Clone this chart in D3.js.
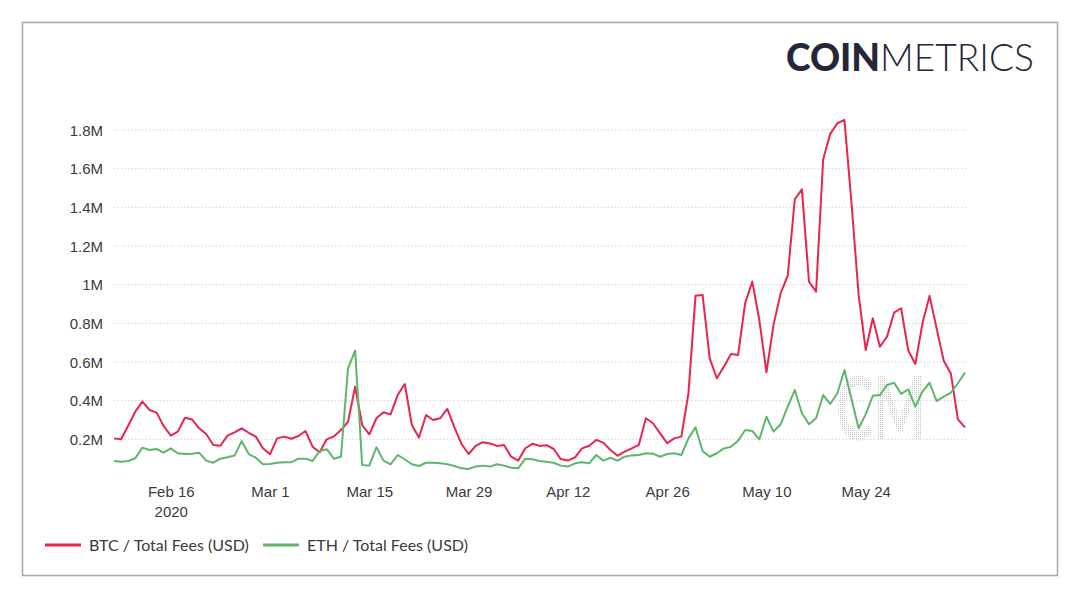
<!DOCTYPE html>
<html>
<head>
<meta charset="utf-8">
<script src="https://cdn.jsdelivr.net/npm/d3@7"></script>
<style>
  body { margin: 0; background: #fff; }
  svg { display: block; }
</style>
</head>
<body>
<script>
var width = 1080;
var height = 598;

// daily values, USD millions, Feb 8 2020 .. Jun 7 2020
var btcFees = [0.205, 0.20, 0.27, 0.343, 0.395, 0.352, 0.338, 0.269, 0.219, 0.24,
    0.312, 0.303, 0.257, 0.228, 0.171, 0.167, 0.219, 0.236, 0.257, 0.234,
    0.214, 0.154, 0.123, 0.205, 0.214, 0.203, 0.217, 0.243, 0.162, 0.133,
    0.20, 0.215, 0.248, 0.291, 0.472, 0.274, 0.226, 0.309, 0.34, 0.329,
    0.429, 0.486, 0.274, 0.209, 0.326, 0.30, 0.309, 0.357, 0.262, 0.176,
    0.124, 0.166, 0.185, 0.179, 0.166, 0.171, 0.110, 0.09, 0.154, 0.177,
    0.166, 0.17, 0.15, 0.098, 0.090, 0.107, 0.153, 0.167, 0.197, 0.183,
    0.145, 0.115, 0.136, 0.153, 0.171, 0.309, 0.283, 0.231, 0.18, 0.205,
    0.214, 0.438, 0.943, 0.946, 0.619, 0.516, 0.576, 0.641, 0.636, 0.904,
    1.016, 0.817, 0.547, 0.792, 0.955, 1.047, 1.442, 1.493, 1.016, 0.964,
    1.649, 1.78, 1.835, 1.852, 1.42, 0.947, 0.662, 0.826, 0.679, 0.731,
    0.855, 0.878, 0.659, 0.590, 0.80, 0.942, 0.774, 0.607, 0.541, 0.303,
    0.262];

var ethFees = [0.088, 0.084, 0.088, 0.102, 0.157, 0.145, 0.150, 0.131, 0.153, 0.128,
    0.124, 0.126, 0.131, 0.090, 0.079, 0.10, 0.107, 0.116, 0.191, 0.124,
    0.105, 0.071, 0.072, 0.079, 0.081, 0.081, 0.10, 0.10, 0.088, 0.140,
    0.149, 0.10, 0.110, 0.567, 0.659, 0.067, 0.064, 0.159, 0.090, 0.071,
    0.119, 0.097, 0.071, 0.062, 0.079, 0.079, 0.076, 0.071, 0.062, 0.050,
    0.047, 0.059, 0.064, 0.059, 0.071, 0.064, 0.053, 0.050, 0.10, 0.097,
    0.088, 0.084, 0.079, 0.064, 0.059, 0.076, 0.081, 0.076, 0.119, 0.090,
    0.105, 0.090, 0.110, 0.117, 0.119, 0.128, 0.126, 0.110, 0.124, 0.128,
    0.119, 0.205, 0.262, 0.140, 0.110, 0.128, 0.153, 0.162, 0.193, 0.248,
    0.243, 0.20, 0.317, 0.240, 0.278, 0.369, 0.455, 0.335, 0.278, 0.309,
    0.429, 0.383, 0.438, 0.559, 0.407, 0.257, 0.329, 0.426, 0.429, 0.481,
    0.493, 0.435, 0.459, 0.369, 0.447, 0.493, 0.398, 0.421, 0.441, 0.49,
    0.545];

var firstDay = "2020-02-08";
var xTicks = ["2020-02-16", "2020-03-01", "2020-03-15", "2020-03-29",
    "2020-04-12", "2020-04-26", "2020-05-10", "2020-05-24"];
var yTicks = [0.2, 0.4, 0.6, 0.8, 1.0, 1.2, 1.4, 1.6, 1.8];

var series = [
    { name: "BTC / Total Fees (USD)", values: btcFees, colour: "#e8254f" },
    { name: "ETH / Total Fees (USD)", values: ethFees, colour: "#5fb56c" }
];

var parse = d3.utcParse("%Y-%m-%d");
var start = parse(firstDay);
var days = btcFees.map((d, i) => d3.utcDay.offset(start, i));

var font = "Liberation Sans, Arial, sans-serif";

var svg = d3.select("body")
    .append("svg")
    .attr("width", width)
    .attr("height", height);

// dotted fill for the watermark
var pat = svg.append("defs")
    .append("pattern")
    .attr("id", "dots")
    .attr("width", 2)
    .attr("height", 2)
    .attr("patternUnits", "userSpaceOnUse");
pat.append("rect")
    .attr("width", 1)
    .attr("height", 1)
    .attr("fill", "#c4c4c4");

// frame
svg.append("rect")
    .attr("x", 22.5)
    .attr("y", 22.5)
    .attr("width", 1035)
    .attr("height", 553)
    .attr("fill", "#fff")
    .attr("stroke", "#a8a8a8")
    .attr("stroke-width", 1.5);

var x = d3.scaleUtc()
    .domain([days[0], days[days.length - 1]])
    .range([114, 965]);

var y = d3.scaleLinear()
    .domain([0, 1.8])
    .range([478, 130]);

// grid
svg.append("g")
    .selectAll("line")
    .data(yTicks)
    .enter()
    .append("line")
    .attr("x1", 114)
    .attr("x2", 966)
    .attr("y1", (d) => y(d))
    .attr("y2", (d) => y(d))
    .attr("stroke", "#d9cfd2")
    .attr("stroke-width", 1)
    .attr("stroke-dasharray", "1.5,2");

// y axis (labels only)
var yAxis = d3.axisLeft(y)
    .tickValues(yTicks)
    .tickSize(0)
    .tickPadding(0)
    .tickFormat((d) => d3.format("~g")(d) + "M");

svg.append("g")
    .attr("transform", "translate(103,0)")
    .call(yAxis)
    .call((g) => g.select(".domain").remove())
    .selectAll("text")
    .attr("font-family", font)
    .attr("font-size", 15)
    .attr("fill", "#3a3a40")
    .attr("dy", "0.35em");

// x axis (labels only)
var xAxis = d3.axisBottom(x)
    .tickValues(xTicks.map(parse))
    .tickSize(0)
    .tickPadding(0)
    .tickFormat(d3.utcFormat("%b %-d"));

var xg = svg.append("g")
    .attr("transform", "translate(0,486)")
    .call(xAxis)
    .call((g) => g.select(".domain").remove());

xg.selectAll("text")
    .attr("font-family", font)
    .attr("font-size", 15)
    .attr("fill", "#3a3a40")
    .attr("dy", "0.71em");

xg.select(".tick")
    .append("text")
    .attr("y", 20)
    .attr("dy", "0.71em")
    .attr("font-family", font)
    .attr("font-size", 15)
    .attr("fill", "#3a3a40")
    .text("2020");

// watermark
svg.append("text")
    .attr("x", 836)
    .attr("y", 440)
    .attr("textLength", 90)
    .attr("lengthAdjust", "spacingAndGlyphs")
    .attr("font-family", "Lato, sans-serif")
    .attr("font-weight", 700)
    .attr("font-size", 88)
    .attr("fill", "url(#dots)")
    .text("CM");

// lines
var line = d3.line()
    .x((d, i) => x(days[i]))
    .y((d) => y(d));

svg.append("g")
    .selectAll("path")
    .data(series)
    .enter()
    .append("path")
    .attr("d", (d) => line(d.values))
    .attr("fill", "none")
    .attr("stroke", (d) => d.colour)
    .attr("stroke-width", 2)
    .attr("stroke-linejoin", "round");

// logo
var logo = svg.append("text")
    .attr("x", 786)
    .attr("y", 71)
    .attr("font-family", "Lato, sans-serif")
    .attr("font-size", 37)
    .attr("fill", "#23273a");
logo.append("tspan").attr("font-weight", 900).text("COIN");
logo.append("tspan").attr("font-weight", 300).text("METRICS");
logo.attr("textLength", 248).attr("lengthAdjust", "spacingAndGlyphs");

// legend
var legend = svg.append("g")
    .selectAll("g")
    .data(series)
    .enter()
    .append("g")
    .attr("transform", (d, i) => `translate(${45 + i * 218},545)`);

legend.append("line")
    .attr("x1", 0)
    .attr("x2", 36)
    .attr("stroke", (d) => d.colour)
    .attr("stroke-width", 3);

legend.append("text")
    .attr("x", 44)
    .attr("dy", "0.35em")
    .attr("font-family", "Lato, sans-serif")
    .attr("font-size", 16)
    .attr("fill", "#3a3a40")
    .text((d) => d.name);
</script>
</body>
</html>
